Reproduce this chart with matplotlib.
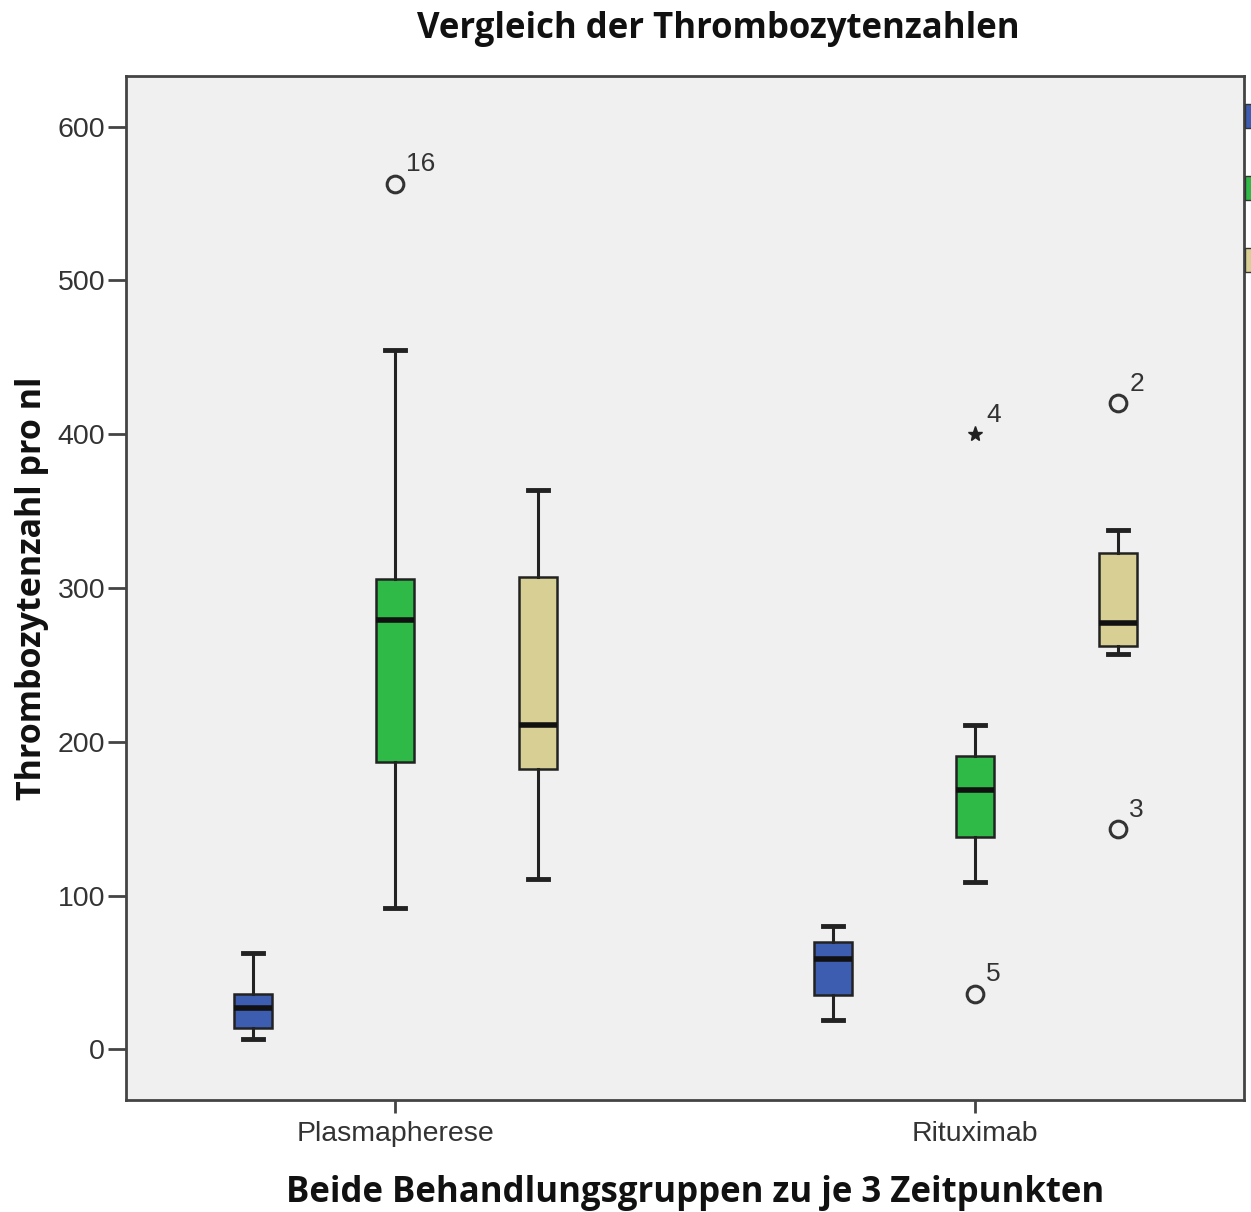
import matplotlib.pyplot as plt
from matplotlib.patches import Rectangle

# Thrombozytenzahlen pro nl, je Gruppe drei Zeitpunkte
groups = ["Plasmapherese", "Rituximab"]
timepoints = ["Zeitpunkt 1", "Zeitpunkt 2", "Zeitpunkt 3"]
colors = ["#3d5db0", "#2fba48", "#d8cf95"]

# Fuenf-Punkte-Zusammenfassung: whislo, q1, med, q3, whishi
plasma_stats = [
    [6.5, 14, 27, 36, 62.5],
    [92, 187, 279, 306, 455],
    [111, 182, 211, 307, 364],
]
ritux_stats = [
    [19, 35, 58.5, 70, 80],
    [108.5, 138, 168.5, 191, 211],
    [257, 262, 277, 323, 338],
]

# Ausreisser (Kreis) und Extremwerte (Stern) mit Fallnummer
plasma_outliers = [[], [(563, "16")], []]
plasma_extremes = [[], [], []]
ritux_outliers = [[], [(36, "5")], [(420, "2"), (143, "3")]]
ritux_extremes = [[], [(400, "4")], []]

offsets = [-0.245, 0.0, 0.247]
box_width = 0.066

fig = plt.figure(figsize=(12.51, 12.12), dpi=100)
ax = fig.add_axes([0.1007, 0.0924, 0.8937, 0.8449])
ax.set_facecolor("#f0f0f0")

all_stats = [plasma_stats, ritux_stats]
all_out = [plasma_outliers, ritux_outliers]
all_ext = [plasma_extremes, ritux_extremes]

for gi, g in enumerate(groups):
    for ti in range(len(timepoints)):
        lo, q1, med, q3, hi = all_stats[gi][ti]
        pos = gi + offsets[ti]
        st = dict(whislo=lo, q1=q1, med=med, q3=q3, whishi=hi, fliers=[])
        ax.bxp([st], positions=[pos], widths=box_width, patch_artist=True,
               showfliers=False, capwidths=box_width * 0.52,
               boxprops=dict(facecolor=colors[ti], edgecolor="#222222", linewidth=1.8),
               medianprops=dict(color="#111111", linewidth=4),
               whiskerprops=dict(color="#222222", linewidth=2.2),
               capprops=dict(color="#222222", linewidth=3.5))
        for val, lab in all_out[gi][ti]:
            ax.plot(pos, val, "o", ms=12, mfc="none", mec="#333333", mew=2.2)
            ax.annotate(lab, (pos, val), xytext=(8, 9), textcoords="offset points",
                        fontsize=19, color="#333333", family="Liberation Sans")
        for val, lab in all_ext[gi][ti]:
            ax.plot(pos, val, "*", ms=11, color="#222222")
            ax.annotate(lab, (pos, val), xytext=(8, 9), textcoords="offset points",
                        fontsize=19, color="#333333", family="Liberation Sans")

ax.set_xlim(-0.464, 1.464)
ax.set_ylim(-33, 633)
ax.set_xticks(range(len(groups)))
ax.set_xticklabels(groups)
ax.set_yticks(range(0, 601, 100))

for side in ["top", "right", "left", "bottom"]:
    ax.spines[side].set_color("#444444")
    ax.spines[side].set_linewidth(2)

ax.tick_params(axis="y", length=13, width=2, color="#444444", pad=2,
               labelsize=20.5, labelcolor="#333333")
ax.tick_params(axis="x", length=9, width=2, color="#444444", pad=6,
               labelsize=20.5, labelcolor="#333333")
for t in ax.get_xticklabels() + ax.get_yticklabels():
    t.set_family("Liberation Sans")

ax.set_ylabel("Thrombozytenzahl pro nl", fontsize=24.5, fontweight="bold",
              family="Open Sans", color="#111111", labelpad=6)
ax.set_xlabel("Beide Behandlungsgruppen zu je 3 Zeitpunkten", fontsize=25,
              fontweight="bold", family="Open Sans", color="#111111", labelpad=20)
ax.xaxis.label.set_x(0.509)
fig.text(0.574, 0.976, "Vergleich der Thrombozytenzahlen", ha="center", va="center",
         fontsize=25, fontweight="bold", family="Open Sans", color="#111111")

# Legendenfelder am rechten Rand, vom Bildrand abgeschnitten
for i, c in enumerate(colors):
    y0 = 1 - (128 + i * 72) / 1212
    fig.patches.append(Rectangle((1245 / 1251, y0), 0.01, 24 / 1212,
                                 transform=fig.transFigure, facecolor=c,
                                 edgecolor="#333333", linewidth=1))

fig.savefig("out.png", dpi=100)
